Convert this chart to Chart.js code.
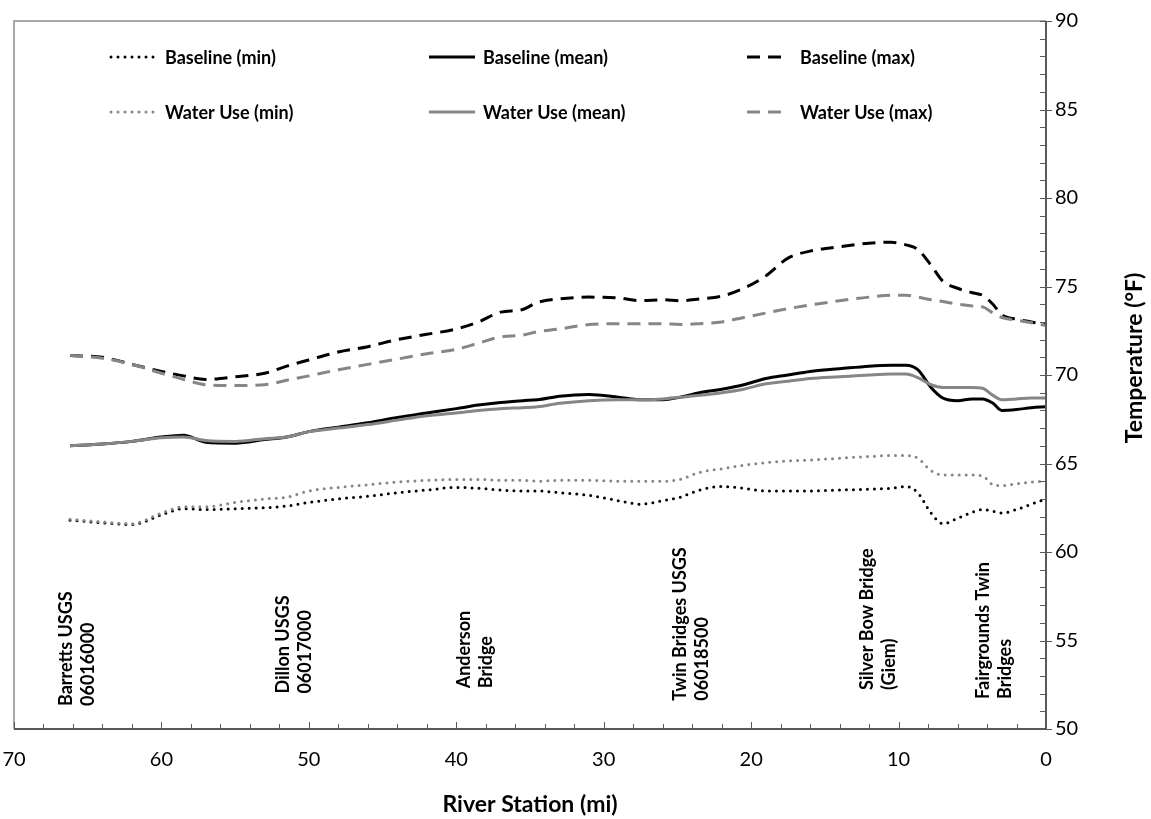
<!DOCTYPE html>
<html>
<head>
<meta charset="utf-8">
<script src="https://cdn.jsdelivr.net/npm/chart.js@4.4.0/dist/chart.umd.min.js"></script>
<style>
  html, body { margin: 0; padding: 0; background: #fff; }
  #grafico { display: block; }
</style>
</head>
<body>
<canvas id="grafico" width="1151" height="819"></canvas>
<script>
// estações do rio (milhas) - eixo x comum das seis séries
const milhas = [66.2, 64, 62, 60, 58.5, 57, 55, 53, 51.5, 50, 48, 46, 44, 42, 40, 38.5, 37, 35.5, 34.5, 33, 31, 29, 27.5, 26, 24.8, 23.5, 22, 20.5, 19, 17.5, 16, 14, 12, 10.5, 9.5, 8.7, 7.8, 7, 6, 5, 4.3, 3.6, 3, 2, 1, 0];

// temperaturas (°F)
const baseMin = [61.8, 61.65, 61.55, 62.1, 62.45, 62.4, 62.45, 62.5, 62.6, 62.8, 63.0, 63.15, 63.35, 63.5, 63.65, 63.6, 63.5, 63.45, 63.45, 63.35, 63.2, 62.9, 62.7, 62.9, 63.1, 63.5, 63.7, 63.6, 63.45, 63.45, 63.45, 63.5, 63.55, 63.6, 63.7, 63.35, 62.2, 61.6, 61.9, 62.25, 62.4, 62.3, 62.2, 62.4, 62.7, 63.0];
const baseMedia = [66.0, 66.1, 66.25, 66.5, 66.6, 66.2, 66.15, 66.35, 66.5, 66.8, 67.05, 67.3, 67.6, 67.85, 68.1, 68.3, 68.45, 68.55, 68.6, 68.8, 68.9, 68.75, 68.6, 68.6, 68.75, 69.0, 69.2, 69.45, 69.8, 70.0, 70.2, 70.35, 70.5, 70.55, 70.55, 70.3, 69.3, 68.7, 68.55, 68.65, 68.65, 68.4, 68.0, 68.05, 68.15, 68.2];
const baseMax = [71.1, 71.0, 70.6, 70.2, 69.95, 69.75, 69.9, 70.1, 70.5, 70.85, 71.3, 71.6, 72.0, 72.3, 72.6, 73.0, 73.55, 73.7, 74.1, 74.3, 74.4, 74.35, 74.2, 74.25, 74.2, 74.3, 74.45, 74.9, 75.6, 76.6, 77.0, 77.25, 77.45, 77.5, 77.35, 77.1, 76.2, 75.3, 74.9, 74.65, 74.5, 74.0, 73.4, 73.15, 73.0, 72.85];
const usoMin = [61.85, 61.7, 61.6, 62.2, 62.55, 62.55, 62.8, 63.0, 63.1, 63.45, 63.65, 63.8, 63.95, 64.05, 64.1, 64.1, 64.05, 64.05, 64.0, 64.05, 64.05, 64.0, 64.0, 64.0, 64.1, 64.5, 64.7, 64.9, 65.05, 65.15, 65.2, 65.3, 65.4, 65.45, 65.45, 65.3, 64.6, 64.35, 64.35, 64.35, 64.3, 63.8, 63.75, 63.85, 63.95, 64.0];
const usoMedia = [66.0, 66.1, 66.25, 66.45, 66.5, 66.3, 66.25, 66.4, 66.5, 66.8, 67.0, 67.2, 67.45, 67.7, 67.85, 68.0, 68.1, 68.15, 68.2, 68.4, 68.55, 68.6, 68.6, 68.65, 68.75, 68.85, 69.0, 69.2, 69.5, 69.65, 69.8, 69.9, 70.0, 70.05, 70.05, 69.85, 69.45, 69.3, 69.3, 69.3, 69.25, 68.85, 68.6, 68.65, 68.7, 68.7];
const usoMax = [71.1, 70.95, 70.6, 70.1, 69.75, 69.45, 69.4, 69.45, 69.7, 69.95, 70.3, 70.6, 70.9, 71.2, 71.45, 71.8, 72.15, 72.25, 72.45, 72.6, 72.85, 72.9, 72.9, 72.9, 72.85, 72.9, 73.0, 73.25, 73.5, 73.75, 73.95, 74.2, 74.4, 74.5, 74.5, 74.4, 74.25, 74.15, 74.0, 73.9, 73.85, 73.5, 73.25, 73.1, 72.95, 72.8];

const nomesSeries = ['Baseline (min)', 'Baseline (mean)', 'Baseline (max)', 'Water Use (min)', 'Water Use (mean)', 'Water Use (max)'];

// marcos ao longo do rio
const estacoes = [['Barretts USGS', '06016000'], ['Dillon USGS', '06017000'], ['Anderson', 'Bridge'], ['Twin Bridges USGS', '06018500'], ['Silver Bow Bridge', '(Giem)'], ['Fairgrounds Twin', 'Bridges']];
const estacoesMilha = [65.7, 51.0, 38.7, 24.1, 11.4, 3.5];
const estacoesBase = [51.3, 52.0, 52.3, 51.6, 52.2, 51.7];

const ticksX = [0, 10, 20, 30, 40, 50, 60, 70];
const ticksY = [50, 55, 60, 65, 70, 75, 80, 85, 90];

const PRETO = '#000000';
const CINZA = '#868686';
const FONTE = 'Lato, "Open Sans", sans-serif';

function pontos(valores) {
    let lista = [];
    milhas.forEach((m, i) => {
        lista.push({ x: m, y: valores[i] });
    });
    return lista;
}

function estilo(cor, tipo) {
    let s = {
        borderColor: cor,
        backgroundColor: cor,
        borderWidth: 3,
        pointRadius: 0,
        fill: false,
        cubicInterpolationMode: 'monotone'
    };
    if (tipo == 'min') {
        s.borderDash = [0, 7];
        s.borderCapStyle = 'round';
    } else if (tipo == 'max') {
        s.borderDash = [13, 8];
        s.borderCapStyle = 'butt';
    }
    return s;
}

const valoresSeries = [baseMin, baseMedia, baseMax, usoMin, usoMedia, usoMax];
const tipos = ['min', 'mean', 'max', 'min', 'mean', 'max'];

let datasets = [];
valoresSeries.forEach((v, i) => {
    let cor = i < 3 ? PRETO : CINZA;
    let d = Object.assign({ label: nomesSeries[i], data: pontos(v), order: i < 3 ? 1 : 0 }, estilo(cor, tipos[i]));
    datasets.push(d);
});

// legenda, marcos, eixos e títulos desenhados à mão
const decoracao = {
    id: 'decoracao',
    afterDraw(chart) {
        const ctx = chart.ctx;
        const a = chart.chartArea;
        const sx = chart.scales.x;
        const sy = chart.scales.y;

        ctx.save();

        // moldura da área do gráfico
        ctx.strokeStyle = '#8c8c8c';
        ctx.lineWidth = 1.5;
        ctx.beginPath();
        ctx.moveTo(a.left, a.bottom);
        ctx.lineTo(a.left, a.top);
        ctx.lineTo(a.right, a.top);
        ctx.stroke();

        // eixos
        ctx.strokeStyle = '#595959';
        ctx.lineWidth = 2;
        ctx.beginPath();
        ctx.moveTo(a.left, a.bottom);
        ctx.lineTo(a.right, a.bottom);
        ctx.moveTo(a.right, a.top);
        ctx.lineTo(a.right, a.bottom);
        ctx.stroke();

        ctx.lineWidth = 1;
        ctx.beginPath();
        for (let m = 0; m <= 70; m += 2) {
            let px = Math.round(sx.getPixelForValue(m)) + 0.5;
            let len = m % 10 == 0 ? 7 : 5;
            ctx.moveTo(px, a.bottom);
            ctx.lineTo(px, a.bottom - len);
        }
        for (let t = 50; t <= 90; t += 1) {
            let py = Math.round(sy.getPixelForValue(t)) + 0.5;
            if (t % 5 == 0) {
                ctx.moveTo(a.right - 6, py);
                ctx.lineTo(a.right + 6, py);
            } else {
                ctx.moveTo(a.right - 6, py);
                ctx.lineTo(a.right, py);
            }
        }
        ctx.stroke();

        // legenda em duas linhas
        const colAmostra = [111, 429, 747];
        const colLargura = [46, 46, 37];
        const colTexto = [165, 483, 800];
        const linhas = [57, 112];
        ctx.font = 'bold 18px ' + FONTE;
        ctx.textBaseline = 'middle';
        ctx.textAlign = 'left';
        chart.data.datasets.forEach((d, i) => {
            let c = i % 3;
            let y = linhas[Math.floor(i / 3)];
            ctx.save();
            ctx.strokeStyle = d.borderColor;
            ctx.lineWidth = 3;
            ctx.lineCap = d.borderCapStyle || 'butt';
            ctx.setLineDash(d.borderDash || []);
            ctx.beginPath();
            ctx.moveTo(colAmostra[c], y);
            ctx.lineTo(colAmostra[c] + colLargura[c], y);
            ctx.stroke();
            ctx.restore();
            ctx.fillStyle = '#000';
            ctx.fillText(d.label, colTexto[c], y + 1);
        });

        // nomes das estações, na vertical
        ctx.font = 'bold 18px ' + FONTE;
        ctx.fillStyle = '#000';
        estacoes.forEach((linhasTexto, i) => {
            let px = sx.getPixelForValue(estacoesMilha[i]);
            let py = sy.getPixelForValue(estacoesBase[i]);
            ctx.save();
            ctx.translate(px, py);
            ctx.rotate(-Math.PI / 2);
            ctx.textAlign = 'left';
            ctx.textBaseline = 'middle';
            ctx.fillText(linhasTexto[0], 0, -11);
            ctx.fillText(linhasTexto[1], 0, 11);
            ctx.restore();
        });

        // títulos dos eixos
        ctx.font = 'bold 23px ' + FONTE;
        ctx.textAlign = 'center';
        ctx.textBaseline = 'middle';
        ctx.fillText('River Station (mi)', (a.left + a.right) / 2, 805);
        ctx.save();
        ctx.translate(1135, 358);
        ctx.rotate(-Math.PI / 2);
        ctx.fillText('Temperature (\u00B0F)', 0, 0);
        ctx.restore();

        ctx.restore();
    }
};

var ctx = document.getElementById('grafico').getContext('2d');
var chart = new Chart(ctx, {
    type: 'line',
    data: { datasets: datasets },
    options: {
        responsive: false,
        animation: false,
        devicePixelRatio: 1,
        layout: { padding: { left: 14, top: 14, right: 0, bottom: 0 } },
        plugins: {
            legend: { display: false },
            tooltip: { enabled: false }
        },
        scales: {
            x: {
                type: 'linear',
                reverse: true,
                min: 0,
                max: 70,
                afterBuildTicks: s => { s.ticks = ticksX.map(v => ({ value: v })); },
                afterFit: s => { s.height = 90; },
                grid: { display: false, drawTicks: false },
                border: { display: false },
                ticks: { padding: 19, color: '#000', font: { family: FONTE, size: 20 } }
            },
            y: {
                position: 'right',
                min: 50,
                max: 90,
                afterBuildTicks: s => { s.ticks = ticksY.map(v => ({ value: v })); },
                afterFit: s => { s.width = 105; },
                grid: { display: false, drawTicks: false },
                border: { display: false },
                ticks: { padding: 9, color: '#000', font: { family: FONTE, size: 20 } }
            }
        }
    },
    plugins: [decoracao]
});
</script>
</body>
</html>
